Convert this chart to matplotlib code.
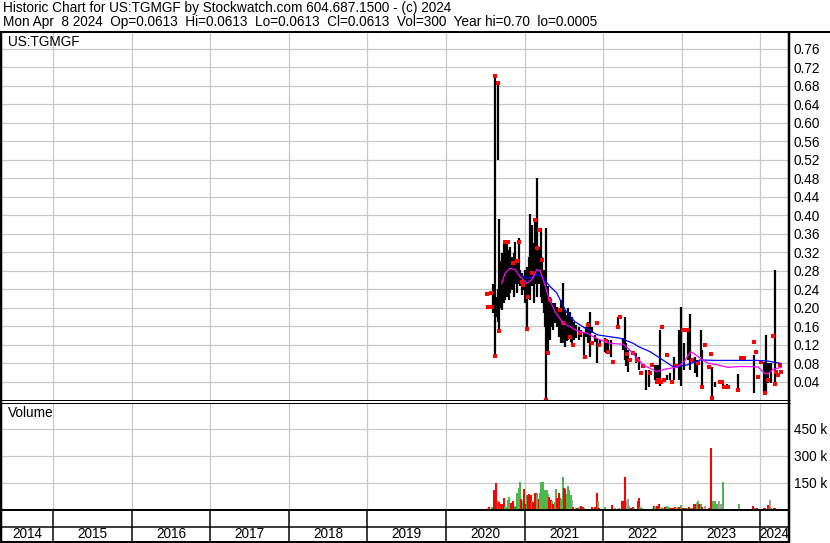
import matplotlib
matplotlib.use("Agg")
import matplotlib.pyplot as plt
from matplotlib.lines import Line2D

plt.rcParams['font.family'] = ['Liberation Sans', 'DejaVu Sans']

title_1 = "Historic Chart for US:TGMGF by Stockwatch.com 604.687.1500 - (c) 2024"
title_2 = ("Mon Apr  8 2024  Op=0.0613  Hi=0.0613  Lo=0.0613  Cl=0.0613  "
           "Vol=300  Year hi=0.70  lo=0.0005")
symbol = "US:TGMGF"

# daily-ish high/low bars: (decimal year, high, low)
price_bars = [
    (2020.597, 0.252, 0.188), (2020.626, 0.701, 0.096), (2020.644, 0.224, 0.180),
    (2020.658, 0.686, 0.520), (2020.665, 0.240, 0.170), (2020.679, 0.391, 0.150),
    (2020.695, 0.300, 0.200), (2020.711, 0.318, 0.195), (2020.733, 0.343, 0.210),
    (2020.753, 0.339, 0.217), (2020.775, 0.343, 0.224), (2020.796, 0.325, 0.217),
    (2020.817, 0.332, 0.231), (2020.838, 0.310, 0.238), (2020.860, 0.318, 0.224),
    (2020.880, 0.343, 0.252), (2020.902, 0.296, 0.231), (2020.924, 0.350, 0.252),
    (2020.944, 0.282, 0.246), (2020.966, 0.274, 0.227), (2020.987, 0.267, 0.238),
    (2021.008, 0.282, 0.210), (2021.029, 0.289, 0.153), (2021.051, 0.310, 0.224),
    (2021.071, 0.402, 0.217), (2021.093, 0.379, 0.246), (2021.115, 0.339, 0.210),
    (2021.127, 0.393, 0.260), (2021.144, 0.354, 0.252), (2021.160, 0.480, 0.224),
    (2021.178, 0.332, 0.252), (2021.204, 0.372, 0.224), (2021.220, 0.310, 0.210),
    (2021.242, 0.282, 0.188), (2021.262, 0.260, 0.159), (2021.275, 0.372, 0.0005),
    (2021.293, 0.246, 0.101), (2021.318, 0.224, 0.130), (2021.338, 0.217, 0.159),
    (2021.360, 0.210, 0.152), (2021.382, 0.210, 0.166), (2021.411, 0.202, 0.159),
    (2021.440, 0.195, 0.137), (2021.466, 0.217, 0.123), (2021.487, 0.253, 0.123),
    (2021.517, 0.195, 0.116), (2021.535, 0.185, 0.128), (2021.551, 0.199, 0.130),
    (2021.573, 0.191, 0.137), (2021.588, 0.176, 0.126), (2021.602, 0.180, 0.120),
    (2021.628, 0.170, 0.130), (2021.656, 0.162, 0.134), (2021.687, 0.159, 0.130),
    (2021.720, 0.152, 0.137), (2021.754, 0.145, 0.090), (2021.784, 0.159, 0.137),
    (2021.805, 0.170, 0.123), (2021.835, 0.191, 0.094), (2021.860, 0.159, 0.145),
    (2021.891, 0.141, 0.126), (2021.924, 0.134, 0.080), (2021.954, 0.130, 0.116),
    (2022.018, 0.134, 0.105), (2022.038, 0.123, 0.101), (2022.060, 0.130, 0.109),
    (2022.094, 0.130, 0.094), (2022.187, 0.180, 0.155), (2022.251, 0.134, 0.108),
    (2022.272, 0.180, 0.087), (2022.293, 0.123, 0.073), (2022.314, 0.108, 0.062),
    (2022.412, 0.101, 0.080), (2022.454, 0.094, 0.065), (2022.539, 0.065, 0.022),
    (2022.581, 0.065, 0.029), (2022.654, 0.076, 0.044), (2022.679, 0.076, 0.040),
    (2022.696, 0.076, 0.040), (2022.721, 0.152, 0.030), (2022.814, 0.054, 0.044),
    (2022.845, 0.058, 0.044), (2022.899, 0.094, 0.044), (2022.963, 0.152, 0.044),
    (2022.992, 0.202, 0.030), (2023.027, 0.123, 0.065), (2023.078, 0.152, 0.087),
    (2023.099, 0.186, 0.065), (2023.167, 0.094, 0.058), (2023.188, 0.087, 0.051),
    (2023.239, 0.152, 0.094), (2023.260, 0.108, 0.030), (2023.387, 0.071, 0.008),
    (2023.417, 0.040, 0.029), (2023.523, 0.040, 0.024), (2023.578, 0.036, 0.029),
    (2023.714, 0.056, 0.021), (2023.913, 0.098, 0.016), (2023.968, 0.055, 0.047),
    (2024.045, 0.083, 0.016), (2024.061, 0.073, 0.022), (2024.074, 0.141, 0.015),
    (2024.096, 0.080, 0.037), (2024.117, 0.080, 0.058), (2024.137, 0.080, 0.037),
    (2024.181, 0.281, 0.036),
]

# red close marks: (decimal year, price)
close_dots = [
    (2020.524, 0.229), (2020.537, 0.201), (2020.567, 0.232), (2020.588, 0.201),
    (2020.626, 0.700), (2020.656, 0.686), (2020.626, 0.096), (2020.679, 0.150),
    (2020.749, 0.343), (2020.791, 0.341), (2020.855, 0.296), (2020.898, 0.300),
    (2020.931, 0.341), (2020.962, 0.256), (2020.982, 0.248), (2021.025, 0.155),
    (2021.046, 0.224), (2021.089, 0.275), (2021.131, 0.390), (2021.153, 0.329),
    (2021.186, 0.368), (2021.216, 0.304), (2021.275, 0.0005), (2021.293, 0.101),
    (2021.322, 0.216), (2021.449, 0.195), (2021.491, 0.166), (2021.576, 0.137),
    (2021.618, 0.120), (2021.704, 0.145), (2021.767, 0.094), (2021.809, 0.163),
    (2021.852, 0.124), (2021.916, 0.166), (2021.949, 0.120), (2022.034, 0.127),
    (2022.064, 0.105), (2022.127, 0.083), (2022.191, 0.159), (2022.212, 0.180),
    (2022.298, 0.099), (2022.340, 0.087), (2022.382, 0.101), (2022.425, 0.087),
    (2022.483, 0.058), (2022.509, 0.073), (2022.594, 0.058), (2022.623, 0.076),
    (2022.679, 0.040), (2022.690, 0.044), (2022.705, 0.044), (2022.730, 0.040),
    (2022.743, 0.159), (2022.772, 0.044), (2022.807, 0.097), (2022.870, 0.040),
    (2022.929, 0.073), (2023.018, 0.152), (2023.061, 0.152), (2023.132, 0.087),
    (2023.209, 0.080), (2023.260, 0.029), (2023.290, 0.119), (2023.345, 0.071),
    (2023.366, 0.100), (2023.387, 0.004), (2023.481, 0.040), (2023.510, 0.040),
    (2023.536, 0.029), (2023.587, 0.029), (2023.714, 0.021), (2023.748, 0.092),
    (2023.786, 0.092), (2023.913, 0.126), (2023.947, 0.105), (2023.968, 0.051),
    (2024.010, 0.083), (2024.053, 0.016), (2024.096, 0.044), (2024.159, 0.139),
    (2024.181, 0.036), (2024.201, 0.062), (2024.223, 0.055), (2024.244, 0.076),
    (2024.265, 0.062),
]

# short moving average (magenta)
ma_short = [
    (2020.707, 0.253), (2020.749, 0.274), (2020.813, 0.285), (2020.877, 0.283),
    (2020.940, 0.267), (2021.026, 0.253), (2021.089, 0.260), (2021.153, 0.282),
    (2021.195, 0.280), (2021.237, 0.260), (2021.301, 0.224), (2021.386, 0.191),
    (2021.492, 0.166), (2021.577, 0.159), (2021.662, 0.150), (2021.789, 0.145),
    (2021.933, 0.132), (2022.085, 0.123), (2022.255, 0.121), (2022.340, 0.108),
    (2022.509, 0.076), (2022.680, 0.062), (2022.807, 0.068), (2022.934, 0.071),
    (2023.027, 0.083), (2023.112, 0.105), (2023.176, 0.098), (2023.239, 0.090),
    (2023.332, 0.080), (2023.459, 0.076), (2023.586, 0.071), (2023.756, 0.073),
    (2023.968, 0.072), (2024.053, 0.058), (2024.095, 0.057), (2024.159, 0.067),
    (2024.265, 0.071),
]

# long moving average (blue)
ma_long = [
    (2020.962, 0.270), (2021.046, 0.263), (2021.153, 0.272), (2021.216, 0.267),
    (2021.322, 0.246), (2021.407, 0.232), (2021.492, 0.203), (2021.530, 0.191),
    (2021.636, 0.170), (2021.805, 0.152), (2021.933, 0.141), (2022.213, 0.134),
    (2022.382, 0.123), (2022.445, 0.116), (2022.594, 0.105), (2022.721, 0.091),
    (2022.891, 0.072), (2023.061, 0.076), (2023.230, 0.087), (2023.443, 0.086),
    (2023.952, 0.086), (2024.079, 0.085), (2024.248, 0.080),
]

# volume: (decimal year, shares, r=down g=up n=unchanged)
volume = [
    (2020.533, 8000, 'g'), (2020.550, 13000, 'r'), (2020.584, 13000, 'g'),
    (2020.609, 108000, 'r'), (2020.626, 108000, 'r'), (2020.639, 150000, 'r'),
    (2020.656, 51000, 'g'), (2020.673, 42000, 'r'), (2020.690, 23000, 'g'),
    (2020.703, 32000, 'r'), (2020.720, 32000, 'r'), (2020.737, 63000, 'r'),
    (2020.753, 23000, 'g'), (2020.771, 13000, 'g'), (2020.788, 55000, 'g'),
    (2020.805, 70000, 'g'), (2020.822, 40000, 'r'), (2020.838, 29000, 'r'),
    (2020.855, 51000, 'r'), (2020.873, 19000, 'g'), (2020.889, 13000, 'r'),
    (2020.906, 93000, 'g'), (2020.924, 122000, 'g'), (2020.940, 156000, 'g'),
    (2020.957, 61000, 'r'), (2020.975, 51000, 'g'), (2020.991, 118000, 'r'),
    (2021.008, 32000, 'r'), (2021.025, 80000, 'g'), (2021.042, 80000, 'r'),
    (2021.059, 86000, 'r'), (2021.076, 80000, 'r'), (2021.093, 51000, 'g'),
    (2021.110, 42000, 'r'), (2021.127, 93000, 'r'), (2021.144, 93000, 'r'),
    (2021.160, 89000, 'g'), (2021.178, 61000, 'r'), (2021.195, 95000, 'g'),
    (2021.212, 156000, 'g'), (2021.229, 156000, 'g'), (2021.246, 112000, 'g'),
    (2021.262, 112000, 'g'), (2021.280, 108000, 'g'), (2021.296, 89000, 'g'),
    (2021.313, 70000, 'r'), (2021.331, 55000, 'r'), (2021.347, 48000, 'g'),
    (2021.364, 32000, 'r'), (2021.382, 42000, 'g'), (2021.398, 118000, 'g'),
    (2021.415, 67000, 'r'), (2021.433, 93000, 'r'), (2021.449, 67000, 'r'),
    (2021.466, 61000, 'g'), (2021.483, 184000, 'g'), (2021.500, 122000, 'r'),
    (2021.517, 118000, 'r'), (2021.534, 89000, 'g'), (2021.551, 131000, 'g'),
    (2021.567, 108000, 'g'), (2021.585, 80000, 'g'), (2021.602, 55000, 'n'),
    (2021.618, 13000, 'r'), (2021.636, 4000, 'g'), (2021.653, 8000, 'g'),
    (2021.669, 8000, 'r'), (2021.687, 13000, 'g'), (2021.704, 4000, 'r'),
    (2021.720, 19000, 'r'), (2021.738, 17000, 'r'), (2021.754, 8000, 'g'),
    (2021.771, 4000, 'r'), (2021.789, 4000, 'r'), (2021.805, 4000, 'g'),
    (2021.822, 6000, 'r'), (2021.856, 13000, 'r'), (2021.873, 4000, 'r'),
    (2021.898, 13000, 'r'), (2021.916, 93000, 'r'), (2021.933, 51000, 'g'),
    (2021.949, 8000, 'r'), (2021.992, 4000, 'r'), (2022.018, 13000, 'g'),
    (2022.111, 29000, 'r'), (2022.153, 8000, 'g'), (2022.174, 4000, 'r'),
    (2022.196, 8000, 'g'), (2022.238, 51000, 'r'), (2022.260, 51000, 'r'),
    (2022.280, 184000, 'r'), (2022.298, 51000, 'n'), (2022.314, 61000, 'n'),
    (2022.331, 23000, 'g'), (2022.349, 8000, 'r'), (2022.374, 17000, 'r'),
    (2022.391, 10000, 'g'), (2022.438, 51000, 'r'), (2022.454, 67000, 'r'),
    (2022.471, 13000, 'g'), (2022.492, 10000, 'g'), (2022.514, 4000, 'r'),
    (2022.556, 4000, 'r'), (2022.598, 4000, 'g'), (2022.628, 10000, 'g'),
    (2022.645, 21000, 'r'), (2022.662, 13000, 'g'), (2022.683, 23000, 'r'),
    (2022.705, 32000, 'r'), (2022.725, 10000, 'g'), (2022.747, 17000, 'n'),
    (2022.768, 10000, 'g'), (2022.789, 17000, 'r'), (2022.814, 21000, 'g'),
    (2022.832, 13000, 'g'), (2022.857, 10000, 'r'), (2022.883, 10000, 'r'),
    (2022.908, 17000, 'r'), (2022.929, 10000, 'g'), (2022.950, 13000, 'g'),
    (2022.967, 17000, 'r'), (2022.985, 29000, 'g'), (2023.010, 10000, 'r'),
    (2023.043, 10000, 'r'), (2023.065, 10000, 'g'), (2023.086, 17000, 'r'),
    (2023.112, 10000, 'g'), (2023.137, 10000, 'r'), (2023.154, 30000, 'r'),
    (2023.171, 32000, 'r'), (2023.188, 36000, 'g'), (2023.205, 51000, 'g'),
    (2023.222, 30000, 'r'), (2023.239, 32000, 'g'), (2023.256, 17000, 'r'),
    (2023.290, 23000, 'n'), (2023.341, 10000, 'r'), (2023.366, 342000, 'r'),
    (2023.383, 10000, 'r'), (2023.400, 48000, 'g'), (2023.417, 51000, 'g'),
    (2023.450, 30000, 'g'), (2023.476, 51000, 'n'), (2023.494, 30000, 'n'),
    (2023.519, 154000, 'g'), (2023.574, 6000, 'r'), (2023.701, 6000, 'r'),
    (2023.730, 34000, 'g'), (2023.765, 6000, 'n'), (2023.901, 23000, 'r'),
    (2023.934, 10000, 'g'), (2023.955, 10000, 'r'), (2023.990, 6000, 'g'),
    (2024.041, 10000, 'r'), (2024.061, 10000, 'r'), (2024.092, 29000, 'r'),
    (2024.117, 57000, 'n'), (2024.137, 10000, 'g'), (2024.168, 10000, 'r'),
    (2024.188, 10000, 'r'), (2024.210, 6000, 'r'), (2024.239, 6000, 'r'),
    (2024.265, 6000, 'g'),
]

price_ticks = [0.04, 0.08, 0.12, 0.16, 0.20, 0.24, 0.28, 0.32, 0.36, 0.40,
               0.44, 0.48, 0.52, 0.56, 0.60, 0.64, 0.68, 0.72, 0.76]
volume_ticks = [150000, 300000, 450000]
volume_labels = ["150 k", "300 k", "450 k"]
years = list(range(2014, 2025))

X0, X1 = 2014.35, 2024.35
W, H = 830, 543
FS = 9.8
GRID = '#c8c8c8'
vol_colors = {'r': '#ff0000', 'g': '#4cb84c', 'n': '#a0a0a0'}

fig = plt.figure(figsize=(W / 100, H / 100), dpi=100)


def px_box(x0, y0, x1, y1):
    return [x0 / W, 1 - y1 / H, (x1 - x0) / W, (y1 - y0) / H]


def fig_line(x0, y0, x1, y1, lw):
    fig.add_artist(Line2D([x0 / W, x1 / W], [1 - y0 / H, 1 - y1 / H],
                          color='black', lw=lw * 0.72, solid_capstyle='butt'))


def year_px(t):
    return 2 + (t - X0) * 786 / (X1 - X0)


def style_panel(ax):
    for s in ax.spines.values():
        s.set_visible(False)
    ax.set_xlim(X0, X1)
    ax.set_xticks(years[1:])
    ax.tick_params(axis='x', length=0, labelbottom=False)
    ax.yaxis.tick_right()
    ax.tick_params(axis='y', length=0, pad=4, labelsize=FS)
    ax.grid(True, color=GRID, lw=0.9)
    ax.set_axisbelow(True)


# price panel
ax = fig.add_axes(px_box(2, 32, 788, 400.2))
style_panel(ax)
ax.set_ylim(0, 0.796)
ax.set_yticks(price_ticks)
ax.set_yticklabels([f"{v:.2f}" for v in price_ticks])

ax.vlines([b[0] for b in price_bars], [b[2] for b in price_bars],
          [b[1] for b in price_bars], color='black', lw=1.6, zorder=2)
ax.plot([d[0] for d in close_dots], [d[1] for d in close_dots], 's',
        color='#ff0000', ms=2.4, mew=0, ls='none', zorder=3)
ax.plot([m[0] for m in ma_long], [m[1] for m in ma_long], color='#0000ff',
        lw=0.9, zorder=4)
ax.plot([m[0] for m in ma_short], [m[1] for m in ma_short], color='#ff00ff',
        lw=0.9, zorder=4)

# volume panel
axv = fig.add_axes(px_box(2, 402.6, 788, 509.8))
style_panel(axv)
axv.set_ylim(0, 595000)
axv.set_yticks(volume_ticks)
axv.set_yticklabels(volume_labels)
axv.bar([v[0] for v in volume], [v[1] for v in volume], width=0.022,
        color=[vol_colors[v[2]] for v in volume], linewidth=0, zorder=2)

# year strip
axy = fig.add_axes(px_box(2, 509.8, 788, 541.8))
axy.set_xlim(X0, X1)
axy.set_ylim(0, 32)
axy.axis('off')
for yr in years:
    lo = max(yr, X0)
    hi = min(yr + 1, X1)
    axy.text((lo + hi) / 2, 7.3, str(yr), ha='center', va='center', fontsize=FS)

# frame
fig_line(0, 31.7, 830, 31.7, 2)
fig_line(1, 31.7, 1, 542.5, 2.5)
fig_line(788.6, 31.7, 788.6, 542.5, 2.5)
fig_line(0, 400.4, 789.8, 400.4, 1)
fig_line(0, 402.7, 789.8, 402.7, 1)
fig_line(0, 509.9, 789.8, 509.9, 2)
fig_line(0, 526.8, 789.8, 526.8, 1.5)
fig_line(0, 541.8, 789.8, 541.8, 2)
for yr in years[1:]:
    x = year_px(yr)
    fig_line(x, 509.9, x, 541.8, 1.5)

# texts
fig.text(3 / W, 1 - 8 / H, title_1, va='center', ha='left', fontsize=FS)
fig.text(3 / W, 1 - 22 / H, title_2, va='center', ha='left', fontsize=FS)
fig.text(8 / W, 1 - 42.5 / H, symbol, va='center', ha='left', fontsize=FS)
fig.text(8 / W, 1 - 413 / H, "Volume", va='center', ha='left', fontsize=FS)

fig.savefig("out.png", dpi=100)
